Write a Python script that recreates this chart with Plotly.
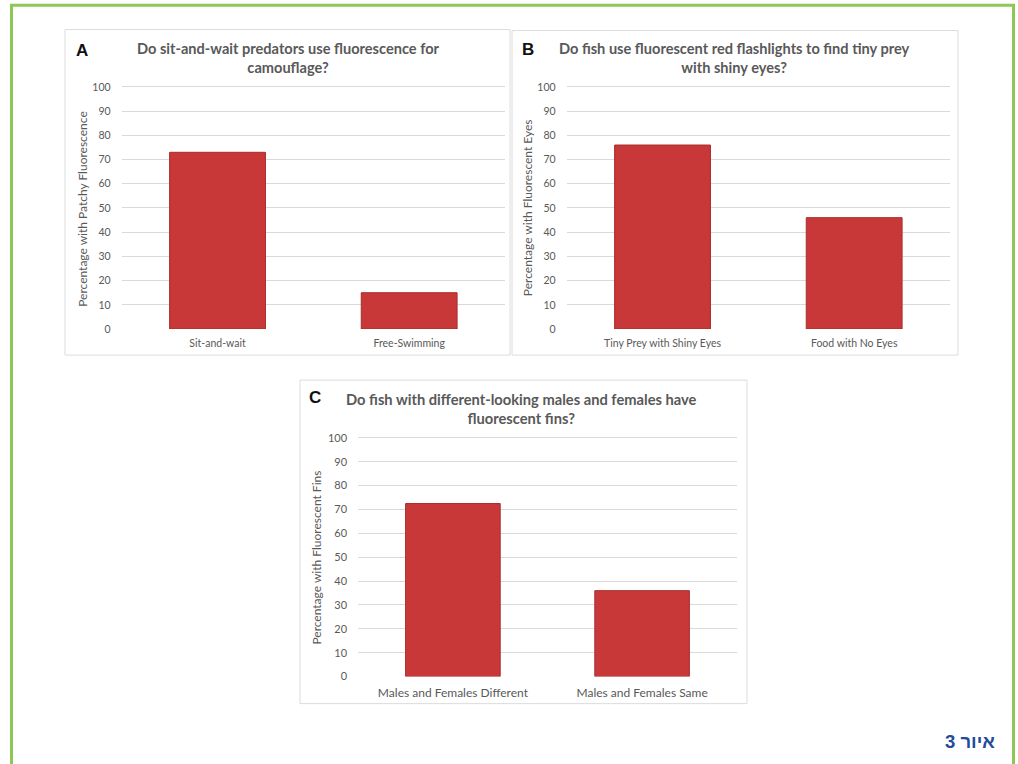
import plotly.graph_objects as go

W, H = 1018, 764

# ---- data ----
cats_a = ["Sit-and-wait", "Free-Swimming"]
vals_a = [73, 15]
cats_b = ["Tiny Prey with Shiny Eyes", "Food with No Eyes"]
vals_b = [76, 46]
cats_c = ["Males and Females Different", "Males and Females Same"]
vals_c = [72.5, 36]
ytitle_a = "Percentage with Patchy Fluorescence"
ytitle_b = "Percentage with Fluorescent Eyes"
ytitle_c = "Percentage with Fluorescent Fins"
title_a = "Do sit-and-wait predators use fluorescence for<br>camouflage?"
title_b = "Do fish use fluorescent red flashlights to find tiny prey<br>with shiny eyes?"
title_c = "Do fish with different-looking males and females have<br>fluorescent fins?"
y_ticks = [0, 10, 20, 30, 40, 50, 60, 70, 80, 90, 100]
Y_TOP = 101  # small headroom so the 100 gridline is drawn


def px(x):
    return x / W


def py(y):
    # compensate the observed vertical squeeze of the rendered page
    yy = (y - 5.5) / 0.984
    return 1 - yy / H


def ydom(y0, y100):
    ytop = y0 - (y0 - y100) * Y_TOP / 100
    return [py(y0), py(ytop)]


BAR = "#c93838"
BAR_LINE = "#a92c2c"
GRAY = "#595959"
GRID = "#d9d9d9"
FONT = "Lato"

fig = go.Figure()
fig.add_trace(go.Bar(x=cats_a, y=vals_a, xaxis="x", yaxis="y",
                     marker=dict(color=BAR, line=dict(color=BAR_LINE, width=1))))
fig.add_trace(go.Bar(x=cats_b, y=vals_b, xaxis="x2", yaxis="y2",
                     marker=dict(color=BAR, line=dict(color=BAR_LINE, width=1))))
fig.add_trace(go.Bar(x=cats_c, y=vals_c, xaxis="x3", yaxis="y3",
                     marker=dict(color=BAR, line=dict(color=BAR_LINE, width=1))))


def yax(dom, size):
    return dict(domain=dom, range=[0, Y_TOP], tickvals=y_ticks, showgrid=True,
                gridcolor=GRID, gridwidth=1, zeroline=False, showline=False,
                ticks="outside", ticklen=8, tickcolor="rgba(0,0,0,0)",
                tickfont=dict(family=FONT, size=size, color=GRAY), fixedrange=True)


def xax(dom, size, anchor, tl):
    return dict(domain=dom, anchor=anchor, showgrid=False, zeroline=False,
                showline=False, ticks="outside", ticklen=tl,
                tickcolor="rgba(0,0,0,0)",
                tickfont=dict(family=FONT, size=size, color=GRAY), fixedrange=True)


fig.update_layout(
    width=W, height=H, margin=dict(l=0, r=0, t=0, b=0),
    paper_bgcolor="white", plot_bgcolor="white", showlegend=False,
    bargap=0.5,
    xaxis=xax([px(121.7), px(505)], 10.5, "y", 4),
    yaxis=yax(ydom(329, 87.3), 10.5),
    xaxis2=xax([px(566.7), px(950)], 10.5, "y2", 4),
    yaxis2=dict(yax(ydom(329, 87.3), 10.5), anchor="x2"),
    xaxis3=xax([px(358.3), px(736.7)], 12, "y3", 5),
    yaxis3=dict(yax(ydom(676, 437.7), 11), anchor="x3"),
)

shapes = []
# outer green frame
shapes.append(dict(type="rect", xref="paper", yref="paper",
                   x0=px(11.5), x1=px(1013.5), y0=py(820), y1=py(5.8),
                   line=dict(color="#8cc853", width=3), fillcolor="rgba(0,0,0,0)",
                   layer="above"))
# panel frames
for (x0, y0, x1, y1) in [(65, 30, 510, 355), (512, 31, 958, 355), (300, 380, 747, 703)]:
    shapes.append(dict(type="rect", xref="paper", yref="paper",
                       x0=px(x0), x1=px(x1), y0=py(y1), y1=py(y0),
                       line=dict(color="#dcdcdc", width=1), fillcolor="rgba(0,0,0,0)",
                       layer="below"))
fig.update_layout(shapes=shapes)

ann = []


def add_text(x, y, text, size, color, family=FONT, angle=0, xanchor="center"):
    ann.append(dict(x=px(x), y=py(y), xref="paper", yref="paper", text=text,
                    showarrow=False, xanchor=xanchor, yanchor="middle",
                    textangle=angle, font=dict(family=family, size=size, color=color)))


# titles
add_text(288.8, 58, "<b>" + title_a + "</b>", 14.6, GRAY)
add_text(734, 58, "<b>" + title_b + "</b>", 14.6, GRAY)
add_text(521.7, 408, "<b>" + title_c + "</b>", 14.7, GRAY)
# panel letters
add_text(82, 51, "<b>A</b>", 17, "#111111", family="Liberation Sans")
add_text(528, 50, "<b>B</b>", 17, "#111111", family="Liberation Sans")
add_text(315, 397, "<b>C</b>", 17, "#111111", family="Liberation Sans")
# y axis titles
add_text(83, 209, ytitle_a, 12, GRAY, angle=-90)
add_text(528.3, 208, ytitle_b, 12, GRAY, angle=-90)
add_text(316.7, 557.5, ytitle_c, 12, GRAY, angle=-90)
# figure label
add_text(970, 741, "<b>איור 3</b>", 18.5, "#234a9b", family="Liberation Sans")

fig.update_layout(annotations=ann)

fig.write_html("out.html")
